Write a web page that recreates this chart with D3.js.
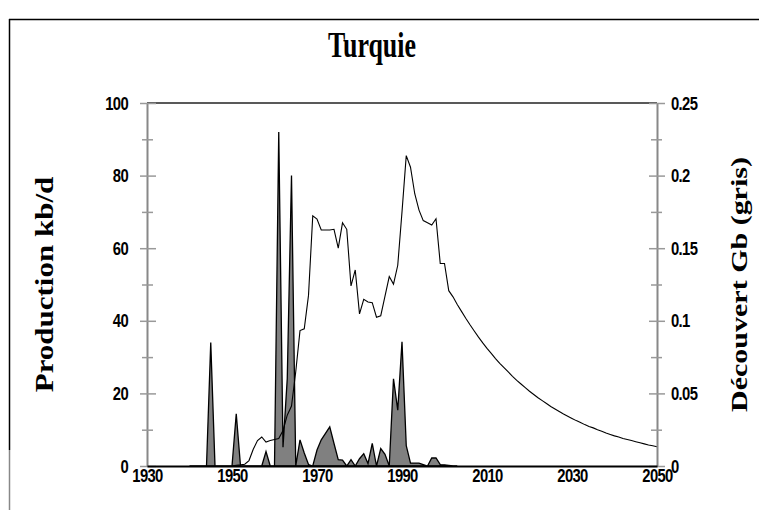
<!DOCTYPE html>
<html>
<head>
<meta charset="utf-8">
<script src="https://cdn.jsdelivr.net/npm/d3@7"></script>
<style>
	body { margin: 0; background: #fff; }
	svg { display: block; }
	.tick text { font-family: 'Liberation Sans', Arial, sans-serif; font-weight: bold; font-size: 19px; letter-spacing: -0.8px; fill: #000; }
	.ttl { font-family: 'Liberation Serif', 'Times New Roman', serif; font-weight: bold; fill: #000; }
</style>
</head>
<body>
<script>
// discoveries, Gb (grey area, right axis)
var discYears = d3.range(1940, 2004);
var discValues = [
	0, 0, 0, 0, 0, 0.085, 0, 0, 0, 0,
	0, 0.036, 0, 0, 0, 0, 0, 0, 0.010, 0,
	0, 0.23, 0.013, 0.06, 0.2, 0, 0.018, 0.009, 0.001, 0,
	0.011, 0.018, 0.0225, 0.027, 0.0155, 0.0044, 0.004, 0, 0.0044, 0,
	0.005, 0.0085, 0.0017, 0.0155, 0, 0.012, 0.008, 0, 0.060, 0.0385,
	0.0855, 0.014, 0.002, 0.002, 0.002, 0.001, 0, 0.0055, 0.0055, 0.001,
	0.0008, 0.0005, 0, 0
];

// production, kb/d (line, left axis)
var prodYears = d3.range(1950, 2051);
var prodValues = [
	0, 0.2, 0.3, 0.5, 1.5, 4.6, 7.0, 8.0, 6.6, 7.0,
	7.3, 7.6, 9.8, 14, 16.5, 26, 37.3, 37.8, 47, 68.9,
	68, 65, 65, 65, 65.2, 60, 67, 65.2, 49.6, 54,
	41.9, 45.9, 45.2, 45, 41, 41.4, 46.8, 52.2, 50.1, 55.3,
	70, 85.5, 82.3, 75, 70.5, 67.6, 67, 66.4, 68.1, 55.8,
	55.8, 48.3, 46.6, 44.5, 42.6, 40.7, 38.9, 37.2, 35.5, 33.9,
	32.4, 31.0, 29.6, 28.3, 27.1, 25.9, 24.7, 23.6, 22.6, 21.6,
	20.6, 19.7, 18.8, 18.0, 17.2, 16.4, 15.7, 15.0, 14.3, 13.7,
	13.1, 12.5, 12.0, 11.4, 10.9, 10.5, 10.0, 9.6, 9.1, 8.7,
	8.3, 8.0, 7.6, 7.3, 7.0, 6.7, 6.4, 6.1, 5.8, 5.6,
	5.3
];

var xTicks = [1930, 1950, 1970, 1990, 2010, 2030, 2050];
var leftTicks = [0, 20, 40, 60, 80, 100];
var leftMinor = [10, 30, 50, 70, 90];
var rightTicks = [0, 0.05, 0.1, 0.15, 0.2, 0.25];
var rightMinor = [0.025, 0.075, 0.125, 0.175, 0.225];

var width = 759, height = 519;
var plotL = 147, plotR = 657, plotT = 103, plotB = 466;
var squeeze = 0.78; // reference text is drawn narrow

var svg = d3.select('body')
	.append('svg')
	.attr('width', width)
	.attr('height', height);

var x = d3.scaleLinear().domain([1930, 2050]).range([plotL, plotR]);
var yL = d3.scaleLinear().domain([0, 100]).range([plotB, plotT]);
var yR = d3.scaleLinear().domain([0, 0.25]).range([plotB, plotT]);

// chart border (top and left only)
svg.append('line').attr('x1', 9).attr('x2', width).attr('y1', 19.5).attr('y2', 19.5)
	.attr('stroke', '#000').attr('stroke-width', 1.5);
svg.append('line').attr('x1', 9.5).attr('x2', 9.5).attr('y1', 19).attr('y2', 450)
	.attr('stroke', '#000').attr('stroke-width', 1.5);
svg.append('line').attr('x1', 9.5).attr('x2', 9.5).attr('y1', 450).attr('y2', 510)
	.attr('stroke', '#888').attr('stroke-width', 1.5);

// top frame line
svg.append('line').attr('x1', plotL).attr('x2', plotR).attr('y1', plotT).attr('y2', plotT)
	.attr('stroke', '#222').attr('stroke-width', 1.5);

// discovery area
var disc = discYears.map(function(d, i) { return { year: d, v: discValues[i] }; });
var area = d3.area()
	.x(function(d) { return x(d.year); })
	.y0(yR(0))
	.y1(function(d) { return yR(d.v); });
svg.append('path')
	.datum(disc)
	.attr('d', area)
	.attr('fill', '#808080')
	.attr('stroke', '#000')
	.attr('stroke-width', 1.3)
	.attr('stroke-linejoin', 'miter');

// production line
var prod = prodYears.map(function(d, i) { return { year: d, v: prodValues[i] }; });
var line = d3.line()
	.x(function(d) { return x(d.year); })
	.y(function(d) { return yL(d.v); });
svg.append('path')
	.datum(prod)
	.attr('d', line)
	.attr('fill', 'none')
	.attr('stroke', '#000')
	.attr('stroke-width', 1.1);

// left axis
var gL = svg.append('g')
	.attr('transform', 'translate(' + plotL + ',0)')
	.call(d3.axisLeft(yL).tickValues(leftTicks).tickSizeOuter(0));
gL.select('.domain').attr('stroke', '#888').attr('stroke-width', 2);
gL.selectAll('.tick line').attr('x1', -7).attr('x2', 9).attr('stroke', '#999').attr('stroke-width', 1.5);
gL.selectAll('.tick text')
	.attr('x', 0)
	.attr('transform', 'translate(-19,0) scale(' + squeeze + ',1)');
var gLm = svg.append('g')
	.attr('transform', 'translate(' + plotL + ',0)')
	.call(d3.axisLeft(yL).tickValues(leftMinor).tickSizeOuter(0).tickFormat(''));
gLm.select('.domain').remove();
gLm.selectAll('.tick line').attr('x1', -5).attr('x2', 6).attr('stroke', '#999').attr('stroke-width', 1.5);

// right axis
var gR = svg.append('g')
	.attr('transform', 'translate(' + plotR + ',0)')
	.call(d3.axisRight(yR).tickValues(rightTicks).tickSizeOuter(0)
		.tickFormat(function(d) { return d === 0 ? '0' : String(d); }));
gR.select('.domain').attr('stroke', '#888').attr('stroke-width', 2);
gR.selectAll('.tick line').attr('x1', -8).attr('x2', 8).attr('stroke', '#999').attr('stroke-width', 1.5);
gR.selectAll('.tick text')
	.attr('x', 0)
	.attr('transform', 'translate(14,0) scale(' + squeeze + ',1)');
var gRm = svg.append('g')
	.attr('transform', 'translate(' + plotR + ',0)')
	.call(d3.axisRight(yR).tickValues(rightMinor).tickSizeOuter(0).tickFormat(''));
gRm.select('.domain').remove();
gRm.selectAll('.tick line').attr('x1', -6).attr('x2', 5).attr('stroke', '#999').attr('stroke-width', 1.5);

// bottom axis
var gB = svg.append('g')
	.attr('transform', 'translate(0,' + plotB + ')')
	.call(d3.axisBottom(x).tickValues(xTicks).tickSize(0).tickSizeOuter(0).tickPadding(2)
		.tickFormat(d3.format('d')));
gB.select('.domain').attr('stroke', '#000').attr('stroke-width', 2);
gB.selectAll('.tick text')
	.attr('transform', 'scale(' + squeeze + ',1)');

// titles
svg.append('text')
	.attr('class', 'ttl')
	.attr('transform', 'translate(372,57) scale(0.72,1)')
	.attr('text-anchor', 'middle')
	.attr('font-size', 36)
	.text('Turquie');

svg.append('text')
	.attr('class', 'ttl')
	.attr('transform', 'translate(53,' + ((plotT + plotB) / 2) + ') scale(0.8,1) rotate(-90)')
	.attr('text-anchor', 'middle')
	.attr('font-size', 31)
	.text('Production kb/d');

svg.append('text')
	.attr('class', 'ttl')
	.attr('transform', 'translate(747,' + ((plotT + plotB) / 2) + ') scale(0.8,1) rotate(-90)')
	.attr('text-anchor', 'middle')
	.attr('font-size', 30)
	.text('Découvert Gb (gris)');
</script>
</body>
</html>
